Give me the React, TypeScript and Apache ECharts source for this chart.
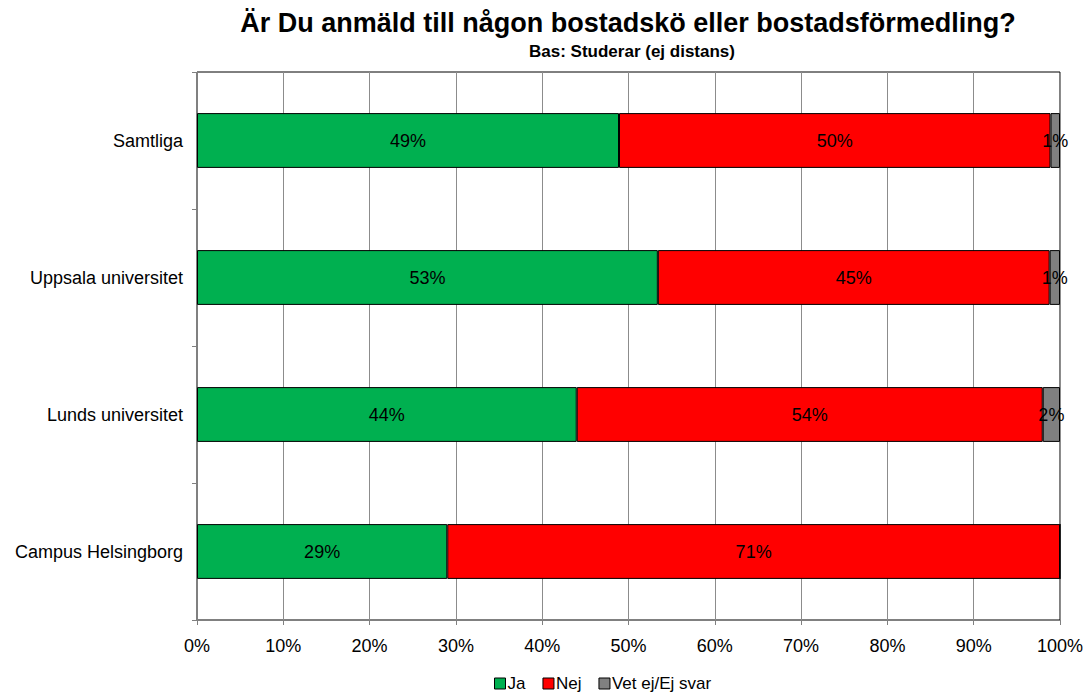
import React, { useEffect, useRef } from "react";
import * as echarts from "echarts";

const categories = ["Samtliga", "Uppsala universitet", "Lunds universitet", "Campus Helsingborg"];
const seriesNames = ["Ja", "Nej", "Vet ej/Ej svar"];
const jaValues = [48.9, 53.4, 44.0, 29.0];
const nejValues = [50.0, 45.4, 54.0, 71.0];
const vetEjValues = [1.1, 1.2, 2.0, 0];
const xTicks = [0, 10, 20, 30, 40, 50, 60, 70, 80, 90, 100];

const colors = ["#00B050", "#FF0000", "#808080"];
const font = "Liberation Sans, Arial, sans-serif";

export default function App() {
  const ref = useRef<HTMLDivElement>(null);
  useEffect(() => {
    document.body.style.margin = "0";
    const chart = echarts.init(ref.current!, null, { renderer: "svg" });
    const values = [jaValues, nejValues, vetEjValues];
    chart.setOption({
      animation: false,
      backgroundColor: "#fff",
      textStyle: { fontFamily: font },
      title: [
        {
          text: "Är Du anmäld till någon bostadskö eller bostadsförmedling?",
          left: 623,
          top: 4,
          textAlign: "center",
          textStyle: { fontFamily: font, fontSize: 27, fontWeight: "bold", color: "#000" },
        },
        {
          text: "Bas: Studerar (ej distans)",
          left: 627,
          top: 38,
          textAlign: "center",
          textStyle: { fontFamily: font, fontSize: 17, fontWeight: "bold", color: "#000" },
        },
      ],
      legend: {
        top: 675,
        left: 494,
        padding: 0,
        itemWidth: 11,
        itemHeight: 11,
        itemGap: 17,
        icon: "rect",
        textStyle: { fontFamily: font, fontSize: 17, color: "#000", padding: [0, 0, 0, -3] },
        data: seriesNames.map((n, i) => ({
          name: n,
          itemStyle: { color: colors[i], borderColor: "#000", borderWidth: 1 },
        })),
      },
      grid: {
        left: 197,
        right: 27,
        top: 72,
        bottom: 75,
        show: true,
        borderColor: "#000",
        borderWidth: 1,
      },
      xAxis: {
        type: "value",
        min: xTicks[0],
        max: xTicks[xTicks.length - 1],
        interval: 10,
        axisLine: { show: true, lineStyle: { color: "#808080" } },
        axisTick: { show: true, length: 5, lineStyle: { color: "#808080" } },
        splitLine: { show: true, lineStyle: { color: "#8c8c8c", width: 1 } },
        axisLabel: {
          formatter: (v: number) => v + "%",
          fontSize: 18,
          color: "#000",
          margin: 17,
          fontFamily: font,
        },
      },
      yAxis: {
        type: "category",
        data: categories,
        inverse: true,
        axisLine: { show: true, lineStyle: { color: "#808080" } },
        axisTick: { show: true, length: 5, lineStyle: { color: "#808080" } },
        axisLabel: { fontSize: 18, color: "#000", margin: 14, fontFamily: font },
      },
      series: seriesNames.map((name, i) => ({
        name,
        type: "bar",
        stack: "total",
        barCategoryGap: "60%",
        data: values[i],
        itemStyle: { color: colors[i], borderColor: "#000", borderWidth: 1 },
        label: {
          show: true,
          position: "inside",
          fontSize: 18,
          color: "#000",
          fontFamily: font,
          formatter: (p: any) => (p.value > 0 ? Math.round(p.value) + "%" : ""),
        },
      })),
    });
    return () => chart.dispose();
  }, []);
  return <div ref={ref} style={{ width: 1087, height: 695 }} />;
}
